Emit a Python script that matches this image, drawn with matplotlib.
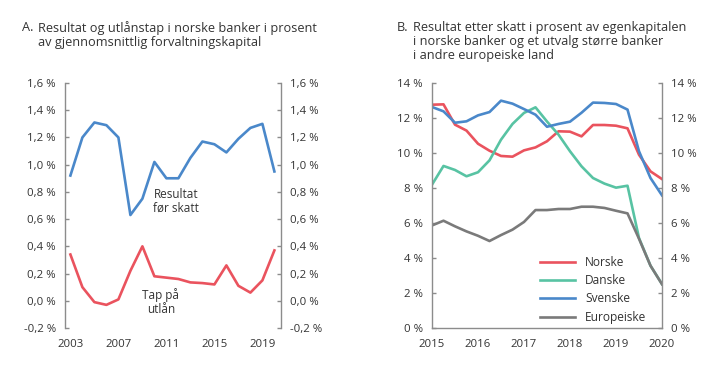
import numpy as np
import matplotlib
matplotlib.use("Agg")
import matplotlib.pyplot as plt

plt.rcParams['font.family'] = ['Open Sans', 'DejaVu Sans']

# --- data panel A (arlig, prosent av forvaltningskapital)
years_a = list(range(2003, 2021))
resultat = [0.92, 1.20, 1.31, 1.29, 1.20, 0.63, 0.75, 1.02, 0.90, 0.90, 1.05,
            1.17, 1.15, 1.09, 1.19, 1.27, 1.30, 0.95]
tap = [0.34, 0.10, -0.01, -0.03, 0.01, 0.22, 0.40, 0.18, 0.17, 0.16, 0.135,
       0.13, 0.12, 0.26, 0.11, 0.06, 0.15, 0.37]
xticks_a = [2003, 2007, 2011, 2015, 2019]
yticks_a = [-0.2, 0.0, 0.2, 0.4, 0.6, 0.8, 1.0, 1.2, 1.4, 1.6]

# --- data panel B (kvartalsvis 2015-2020, prosent av egenkapital)
quarters = [2015 + i * 0.25 for i in range(21)]
norske = [12.76, 12.78, 11.62, 11.28, 10.53, 10.13, 9.83, 9.79, 10.15, 10.32, 10.67,
          11.24, 11.22, 10.95, 11.60, 11.60, 11.56, 11.41, 9.90, 8.95, 8.51]
danske = [8.19, 9.26, 9.03, 8.67, 8.90, 9.58, 10.76, 11.66, 12.29, 12.61, 11.80,
          11.05, 10.10, 9.24, 8.57, 8.25, 8.02, 8.13, 5.14, 3.56, 2.51]
svenske = [12.63, 12.38, 11.73, 11.81, 12.15, 12.34, 12.99, 12.82, 12.51, 12.19, 11.50,
           11.66, 11.79, 12.30, 12.88, 12.86, 12.80, 12.48, 10.10, 8.57, 7.58]
europeiske = [5.86, 6.13, 5.81, 5.52, 5.27, 4.97, 5.31, 5.62, 6.06, 6.74, 6.74,
              6.80, 6.80, 6.93, 6.93, 6.86, 6.70, 6.55, 5.10, 3.56, 2.50]
xticks_b = [2015, 2016, 2017, 2018, 2019, 2020]
yticks_b = [0, 2, 4, 6, 8, 10, 12, 14]

RED = "#EA535E"
GREEN = "#58C3A3"
BLUE = "#4A88CA"
GREY = "#7A7A7A"
TXT = "#333333"
SPINE = "#8C8C8C"
FS = 8.2

fig = plt.figure(figsize=(7.19, 3.74), dpi=100)
axA = fig.add_axes([65/719, 1-328/374, 216/719, 245/374])
axB = fig.add_axes([432/719, 1-328/374, 230/719, 245/374])

def style(ax, bottom_spine):
    ax.spines['top'].set_visible(False)
    ax.spines['bottom'].set_visible(bottom_spine)
    for s in ['left', 'right', 'bottom']:
        ax.spines[s].set_color(SPINE)
        ax.spines[s].set_linewidth(1.0)
    ax.tick_params(axis='y', direction='in', length=3, color=SPINE, width=1,
                   left=True, right=True, labelleft=True, labelright=True,
                   labelsize=FS, labelcolor=TXT, pad=6.5)
    ax.tick_params(axis='x', length=0, labelsize=FS, labelcolor=TXT, pad=8)

# panel A
axA.plot(years_a, resultat, color=BLUE, lw=1.9)
axA.plot(years_a, tap, color=RED, lw=1.9)
axA.set_xlim(2002.55, 2020.55)
axA.set_ylim(-0.2, 1.6)
axA.set_xticks(xticks_a)
axA.set_yticks(yticks_a)
axA.set_yticklabels([("%.1f %%" % v).replace(".", ",") for v in yticks_a])
style(axA, False)
axA.text(2011.8, 0.73, "Resultat\nfør skatt", fontsize=8.5, color=TXT,
         ha='center', va='center', linespacing=1.15)
axA.text(2010.55, -0.01, "Tap på\nutlån", fontsize=8.5, color=TXT,
         ha='center', va='center', linespacing=1.15)

# panel B
axB.plot(quarters, norske, color=RED, lw=1.9, label="Norske")
axB.plot(quarters, danske, color=GREEN, lw=1.9, label="Danske")
axB.plot(quarters, svenske, color=BLUE, lw=1.9, label="Svenske")
axB.plot(quarters, europeiske, color=GREY, lw=1.9, label="Europeiske")
axB.set_xlim(2015, 2020)
axB.set_ylim(0, 14)
axB.set_xticks(xticks_b)
axB.set_yticks(yticks_b)
axB.set_yticklabels(["%d %%" % v for v in yticks_b])
style(axB, True)
leg = axB.legend(loc='upper left', bbox_to_anchor=(0.468, 0.295), frameon=False,
                 fontsize=8.6, handlelength=3.0, handletextpad=0.8,
                 labelspacing=0.45, borderpad=0, borderaxespad=0)
for t in leg.get_texts():
    t.set_color(TXT)

# titles
ty = 1 - 21/374
fig.text(22/719, ty, "A.", fontsize=9.2, color=TXT, va='top')
fig.text(38/719, ty, "Resultat og utlånstap i norske banker i prosent\nav gjennomsnittlig forvaltningskapital",
         fontsize=9.2, color=TXT, va='top', ha='left', linespacing=1.08)
fig.text(397/719, ty, "B.", fontsize=9.2, color=TXT, va='top')
fig.text(413/719, ty, "Resultat etter skatt i prosent av egenkapitalen\ni norske banker og et utvalg større banker\ni andre europeiske land",
         fontsize=9.2, color=TXT, va='top', ha='left', linespacing=1.08)

fig.savefig("out.png", dpi=100)
